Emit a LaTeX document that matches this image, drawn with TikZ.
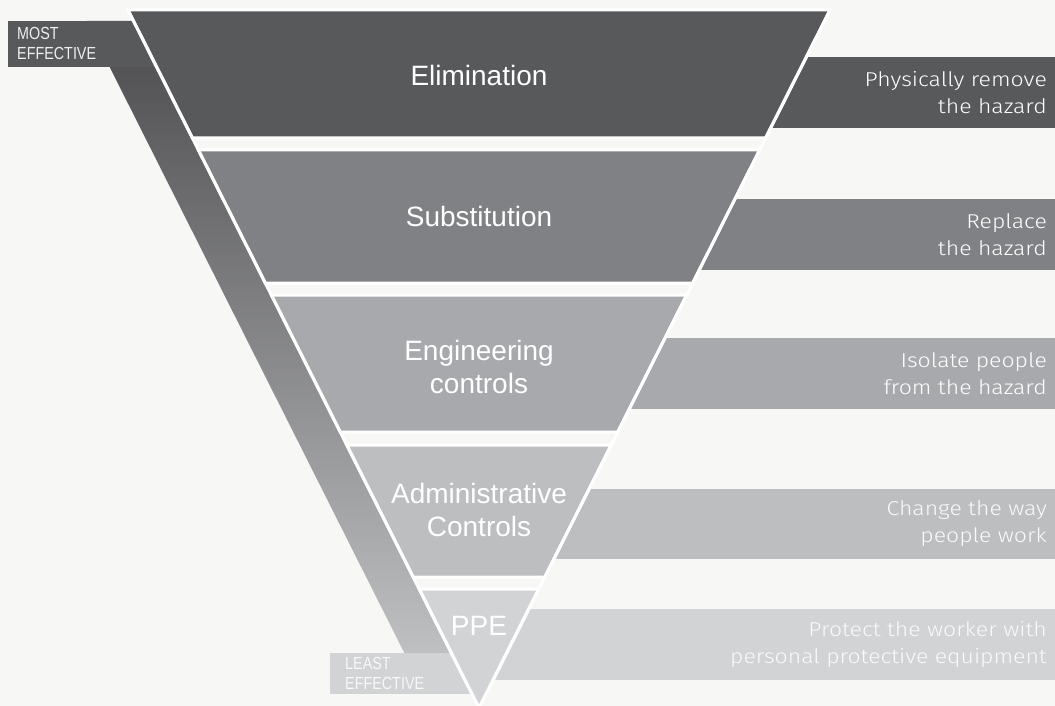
\documentclass[tikz,border=0pt]{standalone}
\usepackage{fontspec}
\setmainfont{Liberation Sans}
\newfontfamily\narrowsf[FakeStretch=0.82]{Liberation Sans}
\newfontfamily\lightsf[FakeStretch=1.15]{Fira Sans Light}
\definecolor{bgcol}{HTML}{F7F7F5}
\definecolor{elimcol}{HTML}{58595B}
\definecolor{substcol}{HTML}{808184}
\definecolor{engincol}{HTML}{A7A9AC}
\definecolor{admincol}{HTML}{BCBEC0}
\definecolor{ppecol}{HTML}{D1D3D4}
\definecolor{bartop}{HTML}{4B4B4D}
\definecolor{barbottom}{HTML}{C6C7C9}
\tikzset{
	band/.style={draw=white, line width=3pt, line join=miter},
	bandtext/.style={text=white, font=\fontsize{28}{33}\selectfont, align=center, inner sep=0pt},
	sidetext/.style={text=white, font=\lightsf\fontsize{20}{27}\selectfont, align=right, anchor=east, inner sep=0pt},
	tagtext/.style={font=\narrowsf\fontsize{17.5}{20}\selectfont, align=left, anchor=west, inner sep=0pt},
}
\begin{document}
\begin{tikzpicture}[x=1pt, y=-1pt]
	\useasboundingbox (0,0) rectangle (1055,706);
	\fill [bgcol] (0,0) rectangle (1055,706);
	% slanted bar behind the funnel
	\shade [top color=bartop, bottom color=barbottom] (86.5,21) -- (133.5,21) -- (471.5,693) -- (424.5,693) -- cycle;
	\fill [elimcol] (8,21) rectangle (175,67);
	\fill [ppecol] (330,653) rectangle (480,694);
	\node [tagtext, text=white!90!elimcol] (most) at (17,43) {MOST\\EFFECTIVE};
	\node [tagtext, text=white!85!ppecol] (least) at (345,673) {LEAST\\EFFECTIVE};
	% boxes on the right
	\fill [elimcol] (700,57) rectangle (1055,128);
	\fill [substcol] (640,199) rectangle (1055,270);
	\fill [engincol] (570,338) rectangle (1055,409);
	\fill [admincol] (500,489) rectangle (1055,559);
	\fill [ppecol] (480,609) rectangle (1055,680);
	% funnel
	\draw [band, fill=elimcol] (128,10) -- (830,10) -- (765.6,138) -- (192.4,138) -- cycle;
	\draw [band, fill=substcol] (198.4,150) -- (759.6,150) -- (692.7,283) -- (265.3,283) -- cycle;
	\draw [band, fill=engincol] (271.4,295) -- (686.6,295) -- (617.7,432) -- (340.3,432) -- cycle;
	\draw [band, fill=admincol] (346.8,445) -- (611.2,445) -- (544.8,577) -- (413.2,577) -- cycle;
	\draw [band, fill=ppecol] (419.2,589) -- (538.8,589) -- (479,708) -- cycle;
	\draw [white, line width=3pt] (128,10) -- (479,708) -- (830,10);
	\node [bandtext] (elim) at (479,75) {Elimination};
	\node [bandtext] (subst) at (479,216) {Substitution};
	\node [bandtext] (engin) at (479,367) {Engineering\\controls};
	\node [bandtext] (admin) at (479,510) {Administrative\\Controls};
	\node [bandtext] (ppe) at (479,626) {PPE};
	\node [sidetext] (elimtxt) at (1047,93) {Physically remove\\the hazard};
	\node [sidetext] (substtxt) at (1047,235) {Replace\\the hazard};
	\node [sidetext] (engintxt) at (1047,374) {Isolate people\\from the hazard};
	\node [sidetext, text=white!92!admincol] (admintxt) at (1047,524) {Change the way\\people work};
	\node [sidetext, text=white!88!ppecol] (ppetxt) at (1047,645) {Protect the worker with\\personal protective equipment};
\end{tikzpicture}
\end{document}
